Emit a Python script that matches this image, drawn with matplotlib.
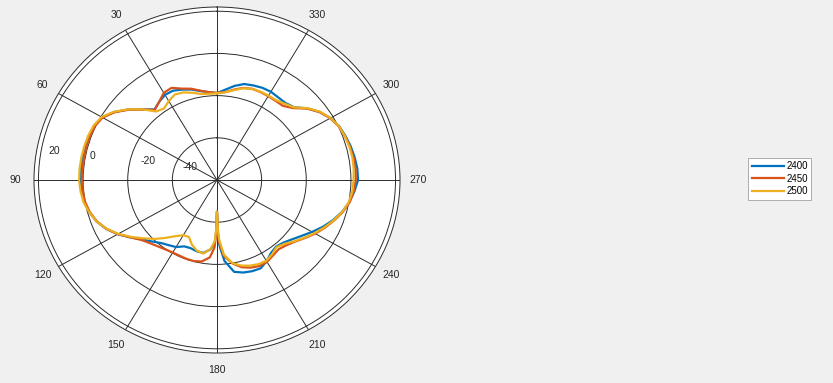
import numpy as np
import matplotlib.pyplot as plt

# angles in degrees (0 at top, counter-clockwise), gain in dB
angles = [0, 5, 10, 15, 20, 25, 30, 35, 40, 45, 50, 55, 60, 65, 70, 75, 80, 85,
          90, 95, 100, 105, 110, 115, 120, 125, 130, 135, 140, 145, 150, 155, 160,
          165, 170, 175, 178, 179, 180, 181, 182, 185, 190, 195, 200, 205, 210,
          215, 220, 225, 230, 235, 240, 245, 250, 255, 260, 265, 270, 275, 280,
          285, 290, 295, 300, 305, 310, 315, 320, 325, 330, 335, 340, 345, 350, 355]

gain_2400 = [-18.8, -18.2, -17.2, -15.6, -14.4, -13.3, -13.4, -14.8, -16.4, -12.6,
             -8.0, -3.8, -0.6, 0.7, 1.0, 1.1, 1.1, 1.1, 1.1, 0.9, 0.4, -0.8, -2.6,
             -5.2, -8.6, -12.6, -16.2, -18.8, -21.0, -22.3, -23.3, -25.3, -25.6,
             -25.0, -24.9, -27.0, -30.0, -34.5, -45.0, -34.0, -29.0, -21.5, -15.8,
             -14.6, -14.0, -13.8, -15.5, -17.8, -18.8, -18.0, -16.2, -13.8, -10.8,
             -7.6, -4.6, -1.9, 0.2, 1.8, 3.2, 3.1, 2.6, 2.0, 1.2, 0.4, -1.3, -3.8,
             -7.2, -11.2, -12.3, -12.2, -11.7, -11.8, -12.3, -12.9, -14.7, -17.0]

gain_2450 = [-18.7, -18.2, -17.0, -15.2, -13.9, -11.8, -12.3, -14.8, -16.6, -12.8,
             -8.2, -4.0, -0.8, 0.4, 0.6, 0.6, 0.5, 0.5, 0.5, 0.4, 0.0, -1.0, -2.7,
             -5.3, -8.7, -12.6, -15.8, -17.6, -18.9, -19.8, -20.3, -20.4, -20.2,
             -20.2, -20.8, -23.2, -28.0, -34.0, -45.0, -34.5, -30.0, -23.8, -19.8,
             -17.2, -15.8, -15.0, -15.2, -16.3, -17.1, -16.2, -14.5, -12.0, -9.2,
             -6.6, -4.1, -1.6, 0.4, 1.5, 2.2, 2.3, 2.1, 1.6, 1.0, 0.2, -1.4, -3.9,
             -7.3, -11.8, -14.1, -14.2, -14.1, -14.0, -14.0, -14.8, -16.5, -18.2]

gain_2500 = [-18.9, -19.0, -18.6, -17.2, -15.8, -15.3, -16.8, -18.6, -17.6, -12.6,
             -7.9, -3.6, -0.3, 1.0, 1.4, 1.6, 1.7, 1.8, 1.8, 1.4, 0.7, -0.7, -2.6,
             -5.4, -8.9, -13.0, -17.0, -20.5, -24.2, -27.5, -29.8, -30.2, -27.3,
             -25.3, -24.6, -27.2, -31.0, -36.0, -45.0, -36.5, -31.5, -24.5, -20.0,
             -18.0, -16.8, -16.0, -15.8, -17.0, -18.5, -17.2, -14.8, -12.3, -9.6,
             -6.9, -4.3, -1.8, 0.0, 0.9, 1.2, 1.5, 1.6, 1.4, 0.9, 0.3, -1.2, -3.6,
             -7.0, -11.3, -12.8, -13.8, -13.8, -13.8, -14.0, -15.0, -16.8, -18.3]

series = [('2400', gain_2400, '#0072BD'),
          ('2450', gain_2450, '#D95319'),
          ('2500', gain_2500, '#EDB120')]

r_ticks = [-40, -20, 0, 20]
theta_ticks = list(range(0, 360, 30))
rmin, rmax = -60, 22
txt = '#262626'
grid_col = '#2b2b2b'

plt.rcParams['font.family'] = ['Liberation Sans', 'DejaVu Sans']

fig = plt.figure(figsize=(8.33, 3.83), dpi=100)
fig.patch.set_facecolor('#F0F0F0')
ax = fig.add_axes([0.0408, 0.0783, 0.4394, 0.9034], projection='polar')
ax.set_aspect('auto')
ax.set_facecolor('white')
ax.set_theta_zero_location('N')
ax.set_theta_direction(1)
ax.set_rlim(rmin, rmax)

ax.set_xticks(np.deg2rad(theta_ticks))
ax.set_xticklabels([])
ax.set_yticks(r_ticks)
ax.set_yticklabels([])
ax.grid(True, color=grid_col, linewidth=0.7, linestyle='-')
ax.spines['polar'].set_color(grid_col)
ax.spines['polar'].set_linewidth(0.7)

for name, g, c in series:
    th = np.deg2rad(angles + [360])
    ax.plot(th, g + [g[0]], color=c, linewidth=1.6, label=name)

# angle labels outside the ring (the one at the top falls off the canvas)
for a in theta_ticks[1:]:
    ax.text(np.deg2rad(a), rmin + 1.1 * (rmax - rmin), str(a), ha='center', va='center',
            fontsize=7.5, color=txt, clip_on=False)

# radial labels
rlab_pos = {'-40': (0.407, 0.538), '-20': (0.290, 0.555), '0': (0.153, 0.569), '20': (0.039, 0.584)}
for s, (x, y) in rlab_pos.items():
    ax.text(x, y, s, transform=ax.transAxes, ha='left', va='center', fontsize=7.5, color=txt)

leg = fig.legend(loc='center', bbox_to_anchor=(0.936, 0.533), fontsize=7,
                 handlelength=3.3, handletextpad=0.25, labelspacing=0.25,
                 borderpad=0.35, fancybox=False, framealpha=1, edgecolor='#a0a0a0')
leg.get_frame().set_linewidth(0.6)

fig.savefig('out.png', dpi=100, facecolor=fig.get_facecolor())
